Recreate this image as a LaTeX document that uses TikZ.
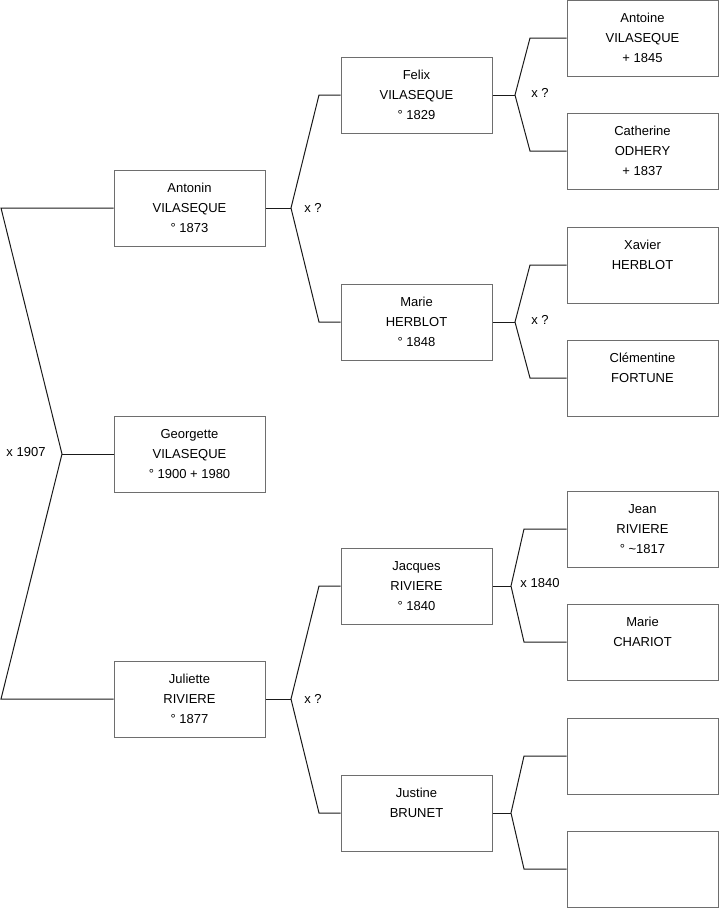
\documentclass[tikz,border=0pt]{standalone}
\usepackage{fontspec}
\setmainfont{Liberation Sans}
\definecolor{boxgray}{HTML}{6E6E6E}
\definecolor{linegray}{HTML}{1A1A1A}
\newcommand{\bt}[1]{\parbox[c][76pt][t]{150pt}{\centering\rule{0pt}{22pt}#1\par}}
\begin{document}
\begin{tikzpicture}[x=1pt,y=-1pt,
  box/.style={draw=boxgray, line width=1pt, minimum width=151pt, minimum height=76pt, inner sep=0pt,
    font=\fontsize{13pt}{20pt}\selectfont},
  conn/.style={draw=linegray, line width=1pt},
  lbl/.style={font=\fontsize{13pt}{15pt}\selectfont, inner sep=0pt}]
\useasboundingbox (0,0) rectangle (719,908);
% generation 1
\node[box] (antonin) at (189.5,208) {\bt{Antonin\\VILASEQUE\\° 1873}};
\node[box] (georgette) at (189.5,454) {\bt{Georgette\\VILASEQUE\\° 1900 + 1980}};
\node[box] (juliette) at (189.5,699) {\bt{Juliette\\RIVIERE\\° 1877}};
% generation 2
\node[box] (felix) at (416.5,95) {\bt{Felix\\VILASEQUE\\° 1829}};
\node[box] (marieh) at (416.5,322) {\bt{Marie\\HERBLOT\\° 1848}};
\node[box] (jacques) at (416.5,586) {\bt{Jacques\\RIVIERE\\° 1840}};
\node[box] (justine) at (416.5,813) {\bt{Justine\\BRUNET}};
% generation 3
\node[box] (antoine) at (642.5,38) {\bt{Antoine\\VILASEQUE\\+ 1845}};
\node[box] (catherine) at (642.5,151) {\bt{Catherine\\ODHERY\\+ 1837}};
\node[box] (xavier) at (642.5,265) {\bt{Xavier\\HERBLOT}};
\node[box] (clementine) at (642.5,378) {\bt{Clémentine\\FORTUNE}};
\node[box] (jean) at (642.5,529) {\bt{Jean\\RIVIERE\\° \textasciitilde1817}};
\node[box] (mariec) at (642.5,642) {\bt{Marie\\CHARIOT}};
\node[box] (empty1) at (642.5,756) {};
\node[box] (empty2) at (642.5,869) {};
% coordinates
\coordinate (a0) at (1,208);
\coordinate (g0) at (62,454);
\coordinate (j0) at (1,699);
\coordinate (fA) at (291,208);
\coordinate (eF) at (319,95);
\coordinate (eM) at (319,322);
\coordinate (fJ) at (291,699);
\coordinate (eJa) at (319,586);
\coordinate (eJu) at (319,813);
\coordinate (fF) at (515,95);
\coordinate (eAn) at (530,38);
\coordinate (eCa) at (530,151);
\coordinate (fM) at (515,322);
\coordinate (eXa) at (530,265);
\coordinate (eCl) at (530,378);
\coordinate (fJc) at (511,586);
\coordinate (eJe) at (524,529);
\coordinate (eMc) at (524,642);
\coordinate (fJs) at (511,813);
\coordinate (eE1) at (524,756);
\coordinate (eE2) at (524,869);
% connectors
\draw[conn] (antonin.west) -- (a0) -- (g0) -- (j0) -- (juliette.west);
\draw[conn] (g0) -- (georgette.west);
\draw[conn] (antonin.east) -- (fA);
\draw[conn] (felix.west) -- (eF) -- (fA) -- (eM) -- (marieh.west);
\draw[conn] (juliette.east) -- (fJ);
\draw[conn] (jacques.west) -- (eJa) -- (fJ) -- (eJu) -- (justine.west);
\draw[conn] (felix.east) -- (fF);
\draw[conn] (antoine.west) -- (eAn) -- (fF) -- (eCa) -- (catherine.west);
\draw[conn] (marieh.east) -- (fM);
\draw[conn] (xavier.west) -- (eXa) -- (fM) -- (eCl) -- (clementine.west);
\draw[conn] (jacques.east) -- (fJc);
\draw[conn] (jean.west) -- (eJe) -- (fJc) -- (eMc) -- (mariec.west);
\draw[conn] (justine.east) -- (fJs);
\draw[conn] (empty1.west) -- (eE1) -- (fJs) -- (eE2) -- (empty2.west);
% labels
\node[lbl] (l1907) at (26,452) {x 1907};
\node[lbl] (lA) at (313,208) {x ?};
\node[lbl] (lF) at (540,93) {x ?};
\node[lbl] (lM) at (540,320) {x ?};
\node[lbl] (lJc) at (540,583) {x 1840};
\node[lbl] (lJ) at (313,699) {x ?};
\end{tikzpicture}
\end{document}
